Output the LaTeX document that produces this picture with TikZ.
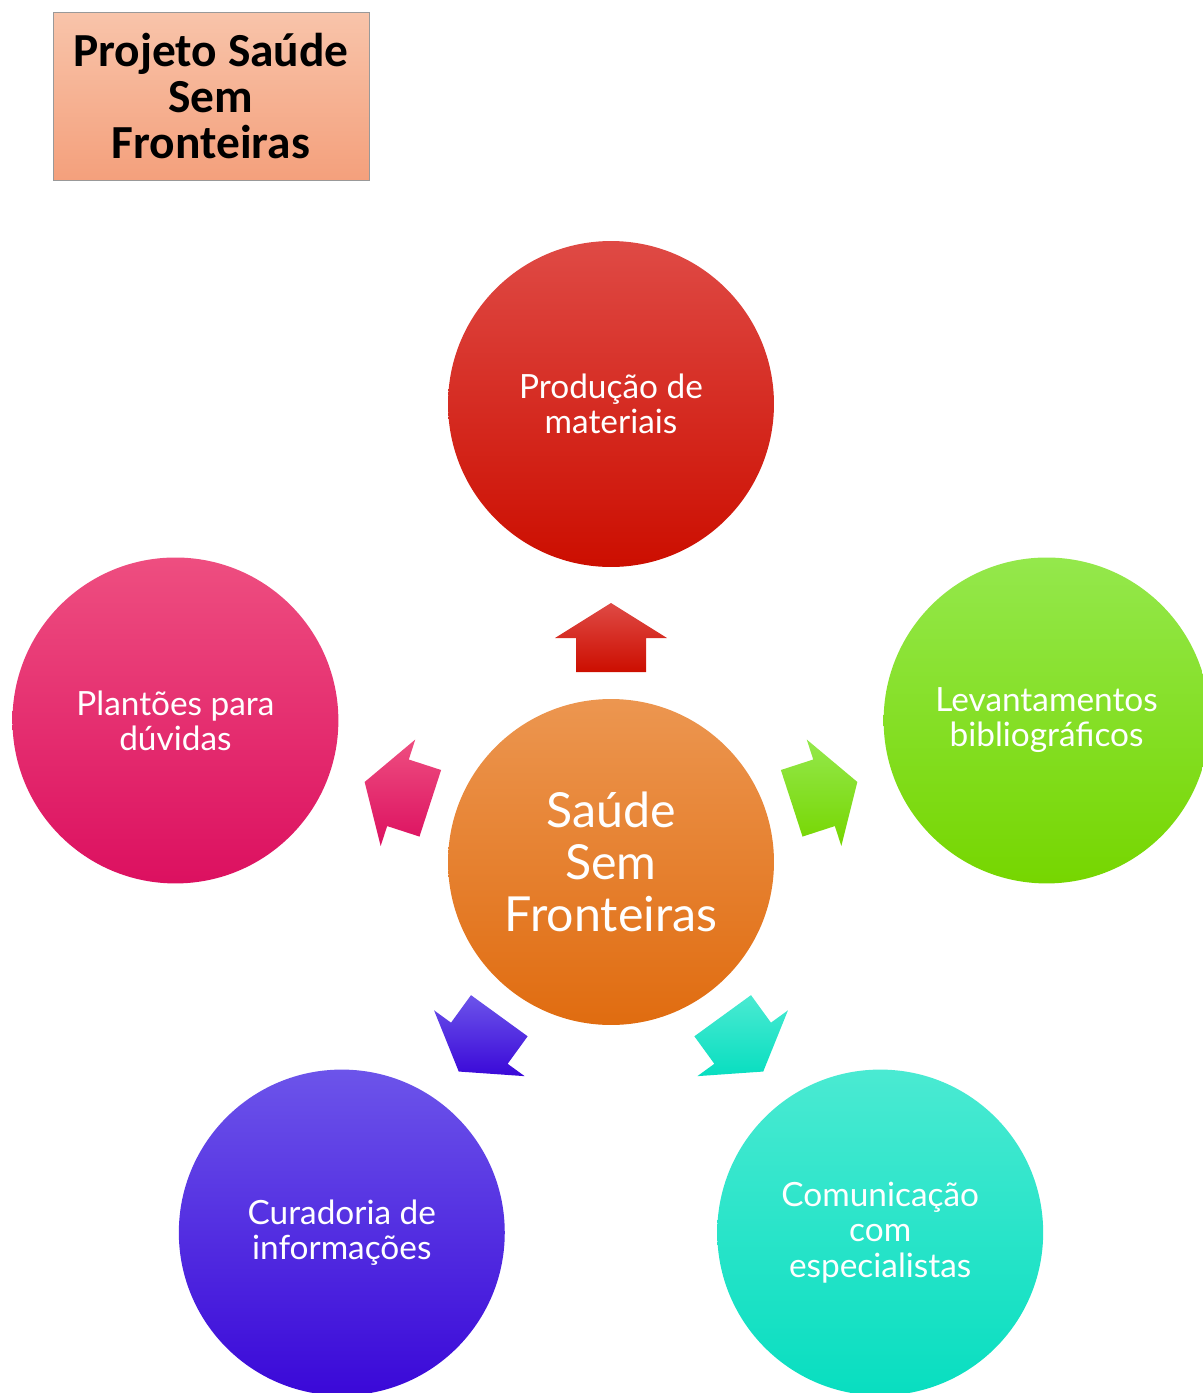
\documentclass[tikz,border=0pt]{standalone}
\usepackage{fontspec}
\setmainfont{Lato}
\newfontfamily\titlefont{Carlito}
\usetikzlibrary{calc}
\definecolor{boxtop}{HTML}{F8C4AA}
\definecolor{boxbot}{HTML}{F4A07C}
\definecolor{hubtop}{HTML}{EC9650}
\definecolor{hubbot}{HTML}{E06C10}
\definecolor{prodtop}{HTML}{DF4A45}
\definecolor{prodbot}{HTML}{CC0E00}
\definecolor{levtop}{HTML}{94E84C}
\definecolor{levbot}{HTML}{76D600}
\definecolor{comtop}{HTML}{4AEAD2}
\definecolor{combot}{HTML}{08DEC0}
\definecolor{curtop}{HTML}{6C54EA}
\definecolor{curbot}{HTML}{3A08D8}
\definecolor{plantop}{HTML}{EE4E80}
\definecolor{planbot}{HTML}{DC1060}
\begin{document}
\begin{tikzpicture}[x=0.02cm,y=0.02cm,
    bubble/.style={circle,minimum size=6.52cm,inner sep=0pt,text=white,align=center,
      font=\fontsize{19}{20}\selectfont}]
  \useasboundingbox (0,0) rectangle (1203,-1393);
  \node [draw=gray!80,top color=boxtop,bottom color=boxbot,minimum width=6.32cm,minimum height=3.36cm,
    align=center,font=\titlefont\bfseries\fontsize{27}{26}\selectfont] (title) at (211,-96) {Projeto Saúde\\Sem\\Fronteiras};
  \coordinate (C) at (611,-862);
  \node [bubble,top color=hubtop,bottom color=hubbot,font=\fontsize{27.5}{29.5}\selectfont] (hub) at (C) {Saúde\\Sem\\Fronteiras};
  \foreach \a/\n/\t in {90/prod/{Produção de\\materiais},18/lev/{Levantamentos\\bibliográficos},
      -54/com/{Comunicação\\com\\especialistas},-126/cur/{Curadoria de\\informações},162/plan/{Plantões para\\dúvidas}} {
    \node [bubble,top color=\n top,bottom color=\n bot] (\n) at ($(C)+(\a:458)$) {\t};
    \path [top color=\n top,bottom color=\n bot] ($(C)+(\a:190)+(\a+90:35)$) -- ($(C)+(\a:224)+(\a+90:35)$)
      -- ($(C)+(\a:224)+(\a+90:56)$) -- ($(C)+(\a:259)$) -- ($(C)+(\a:224)+(\a-90:56)$)
      -- ($(C)+(\a:224)+(\a-90:35)$) -- ($(C)+(\a:190)+(\a-90:35)$) -- cycle;
  }
\end{tikzpicture}
\end{document}
